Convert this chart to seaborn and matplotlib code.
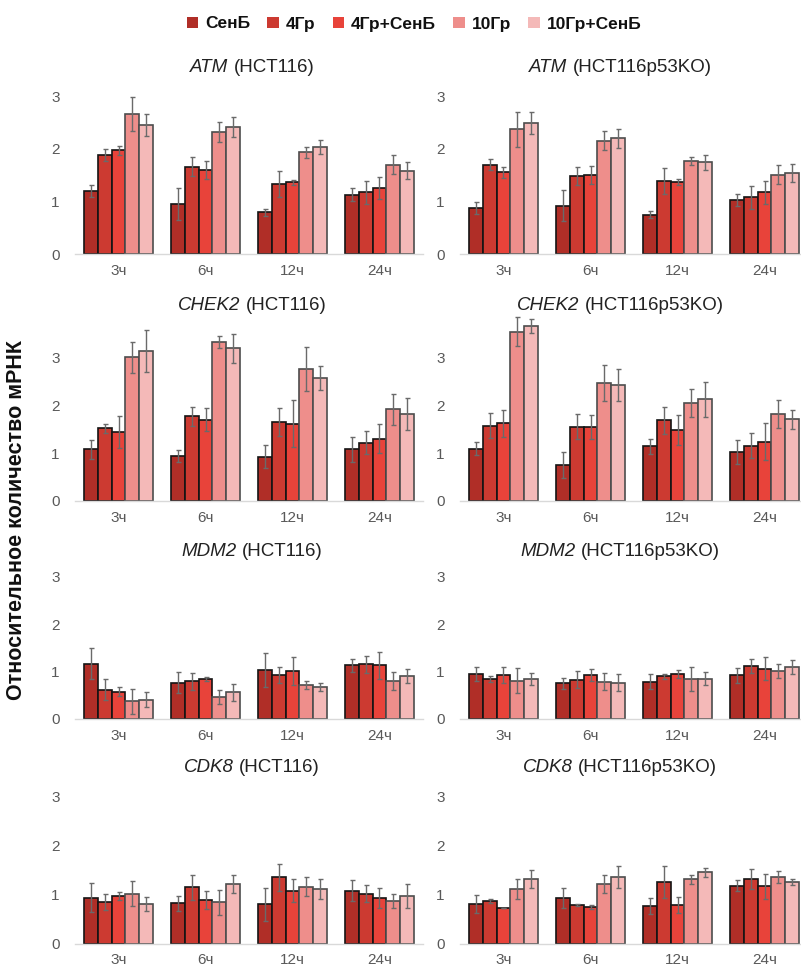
import numpy as np
import pandas as pd
import matplotlib
matplotlib.use("Agg")
import matplotlib.pyplot as plt
from matplotlib.patches import Patch
import seaborn as sns

# ---- categories -------------------------------------------------------
times = ["3ч", "6ч", "12ч", "24ч"]
treatments = ["СенБ", "4Гр", "4Гр+СенБ", "10Гр", "10Гр+СенБ"]
colors = ["#B02E27", "#CC3A31", "#E8433A", "#EE8E8B", "#F4B9B8"]
edges = ["#141414", "#141414", "#141414", "#4d4d4d", "#4d4d4d"]
yticks = [0, 1, 2, 3]

# ---- mean values (rows: treatments, columns: time points) ------------
atm_wt = [[1.20, 0.95, 0.79, 1.13],
          [1.88, 1.66, 1.33, 1.17],
          [1.97, 1.59, 1.36, 1.25],
          [2.66, 2.31, 1.93, 1.70],
          [2.46, 2.41, 2.03, 1.58]]
atm_wt_err = [[0.12, 0.30, 0.06, 0.12],
              [0.12, 0.18, 0.24, 0.21],
              [0.09, 0.17, 0.05, 0.21],
              [0.33, 0.19, 0.10, 0.18],
              [0.21, 0.19, 0.13, 0.16]]

atm_ko = [[0.87, 0.92, 0.75, 1.03],
          [1.70, 1.48, 1.39, 1.08],
          [1.55, 1.51, 1.37, 1.17],
          [2.37, 2.15, 1.77, 1.51],
          [2.49, 2.20, 1.74, 1.54]]
atm_ko_err = [[0.11, 0.30, 0.06, 0.12],
              [0.11, 0.17, 0.24, 0.22],
              [0.10, 0.17, 0.06, 0.21],
              [0.33, 0.18, 0.08, 0.18],
              [0.21, 0.18, 0.14, 0.17]]

chek2_wt = [[1.08, 0.94, 0.93, 1.08],
            [1.52, 1.78, 1.66, 1.22],
            [1.45, 1.70, 1.62, 1.31],
            [3.01, 3.33, 2.76, 1.92],
            [3.15, 3.20, 2.58, 1.82]]
chek2_wt_err = [[0.20, 0.12, 0.24, 0.27],
                [0.10, 0.20, 0.29, 0.24],
                [0.33, 0.24, 0.49, 0.31],
                [0.32, 0.13, 0.46, 0.33],
                [0.44, 0.30, 0.26, 0.34]]

chek2_ko = [[1.10, 0.76, 1.15, 1.02],
            [1.58, 1.56, 1.69, 1.16],
            [1.63, 1.56, 1.49, 1.24],
            [3.55, 2.47, 2.05, 1.82],
            [3.67, 2.43, 2.13, 1.71]]
chek2_ko_err = [[0.13, 0.27, 0.16, 0.25],
                [0.26, 0.26, 0.29, 0.26],
                [0.28, 0.25, 0.31, 0.39],
                [0.31, 0.38, 0.29, 0.30],
                [0.15, 0.34, 0.36, 0.20]]

mdm2_wt = [[1.17, 0.77, 1.04, 1.13],
           [0.62, 0.80, 0.93, 1.15],
           [0.58, 0.85, 1.01, 1.13],
           [0.37, 0.46, 0.72, 0.80],
           [0.41, 0.56, 0.68, 0.90]]
mdm2_wt_err = [[0.32, 0.22, 0.36, 0.13],
               [0.22, 0.18, 0.16, 0.18],
               [0.10, 0.04, 0.30, 0.28],
               [0.26, 0.15, 0.08, 0.19],
               [0.15, 0.17, 0.08, 0.15]]

mdm2_ko = [[0.95, 0.75, 0.79, 0.92],
           [0.85, 0.83, 0.90, 1.12],
           [0.92, 0.93, 0.95, 1.06],
           [0.81, 0.79, 0.85, 1.02],
           [0.84, 0.77, 0.85, 1.10]]
mdm2_ko_err = [[0.15, 0.12, 0.15, 0.16],
               [0.06, 0.18, 0.05, 0.15],
               [0.17, 0.13, 0.09, 0.24],
               [0.27, 0.18, 0.25, 0.15],
               [0.13, 0.17, 0.14, 0.15]]

cdk8_wt = [[0.94, 0.82, 0.80, 1.08],
           [0.85, 1.15, 1.35, 1.02],
           [0.97, 0.89, 1.08, 0.93],
           [1.02, 0.84, 1.16, 0.87],
           [0.81, 1.22, 1.12, 0.97]]
cdk8_wt_err = [[0.30, 0.16, 0.34, 0.22],
               [0.17, 0.26, 0.27, 0.18],
               [0.09, 0.19, 0.23, 0.20],
               [0.25, 0.26, 0.19, 0.15],
               [0.15, 0.18, 0.20, 0.24]]

cdk8_ko = [[0.81, 0.93, 0.77, 1.18],
           [0.87, 0.79, 1.26, 1.32],
           [0.72, 0.74, 0.79, 1.17],
           [1.11, 1.22, 1.31, 1.36],
           [1.32, 1.36, 1.46, 1.25]]
cdk8_ko_err = [[0.19, 0.20, 0.16, 0.11],
               [0.05, 0.02, 0.33, 0.21],
               [0.00, 0.04, 0.17, 0.25],
               [0.20, 0.18, 0.09, 0.12],
               [0.19, 0.22, 0.09, 0.06]]

genes = ["ATM", "CHEK2", "MDM2", "CDK8"]
cell_lines = ["HCT116", "HCT116p53KO"]
panels = [
    [(atm_wt, atm_wt_err), (atm_ko, atm_ko_err)],
    [(chek2_wt, chek2_wt_err), (chek2_ko, chek2_ko_err)],
    [(mdm2_wt, mdm2_wt_err), (mdm2_ko, mdm2_ko_err)],
    [(cdk8_wt, cdk8_wt_err), (cdk8_ko, cdk8_ko_err)],
]

# ---- styling ------------------------------------------------------------
sns.set_theme(style="white")
plt.rcParams["font.family"] = ["Liberation Sans", "DejaVu Sans"]

W, H = 801, 967
fig = plt.figure(figsize=(W / 100, H / 100), dpi=100)

# layout in pixels: (baseline y, px per unit, y max, title y)
rows = [
    (254.0, 52.6, 3.0, 68),
    (501.0, 47.7, 3.85, 305),
    (719.0, 47.4, 3.0, 552),
    (943.5, 48.9, 3.0, 768),
]
group_px = 87.0
cols = [(75.0, 423.0, 252), (460.0, 801.0, 620)]

tick_color = "#595959"
title_size = 13.5


def draw_title(cx, cy, gene, cell):
    renderer = fig.canvas.get_renderer()
    t1 = fig.text(0, 0, gene, style="italic", fontsize=title_size,
                  color="#222222", ha="left", va="center")
    t2 = fig.text(0, 0, "(" + cell + ")", fontsize=title_size,
                  color="#222222", ha="left", va="center")
    gap = 5.5
    w1 = t1.get_window_extent(renderer).width
    w2 = t2.get_window_extent(renderer).width
    left = cx - (w1 + gap + w2) / 2
    t1.set_position((left / W, 1 - cy / H))
    t2.set_position(((left + w1 + gap) / W, 1 - cy / H))


for r, (base, unit, ymax, ty) in enumerate(rows):
    for c, (x0, x1, tcx) in enumerate(cols):
        means, errs = panels[r][c]
        top = base - unit * ymax
        ax = fig.add_axes([x0 / W, 1 - base / H, (x1 - x0) / W, (base - top) / H])
        df = pd.DataFrame({
            "time": np.tile(times, len(treatments)),
            "treatment": np.repeat(treatments, len(times)),
            "value": np.array(means).ravel(),
        })
        sns.barplot(data=df, x="time", y="value", hue="treatment",
                    order=times, hue_order=treatments, palette=colors,
                    errorbar=None, width=0.8, legend=False, ax=ax,
                    linewidth=1.2, saturation=1.0)
        bar_groups = list(ax.containers)
        for i, cont in enumerate(bar_groups):
            for j, bar in enumerate(cont.patches):
                bar.set_edgecolor(edges[i])
                bar.set_linewidth(1.2)
                xc = bar.get_x() + bar.get_width() / 2
                ax.errorbar(xc, means[i][j], yerr=errs[i][j], fmt="none",
                            ecolor="#6a6a6a", elinewidth=1.0, capsize=1.8,
                            capthick=1.0, zorder=5, clip_on=False)
        xmax = -0.5 + (x1 - x0) / group_px
        ax.set_xlim(-0.5, xmax)
        ax.set_ylim(0, ymax)
        ax.set_yticks(yticks)
        ax.set_xlabel("")
        ax.set_ylabel("")
        for s in ["top", "right", "left"]:
            ax.spines[s].set_visible(False)
        ax.spines["bottom"].set_color("#d9d9d9")
        ax.spines["bottom"].set_linewidth(1.0)
        ax.tick_params(axis="both", length=0, labelsize=11,
                       labelcolor=tick_color)
        ax.tick_params(axis="x", pad=7)
        ax.tick_params(axis="y", pad=11)
        ax.patch.set_alpha(0)
        draw_title(tcx, ty, genes[r], cell_lines[c])

fig.text(17 / W, 1 - 520 / H, "Относительное количество мРНК", rotation=90,
         fontsize=15.5, fontweight="bold", ha="center", va="center",
         color="#111111")

handles = [Patch(facecolor=col, edgecolor="none", label=lab)
           for col, lab in zip(colors, treatments)]
fig.legend(handles=handles, loc="center", bbox_to_anchor=(414 / W, 1 - 24 / H),
           ncol=5, frameon=False, prop={"weight": "bold", "size": 12.5},
           handlelength=0.65, handleheight=0.65, handletextpad=0.4,
           columnspacing=1.0, labelcolor="#111111")

fig.savefig("out.png", dpi=100)
